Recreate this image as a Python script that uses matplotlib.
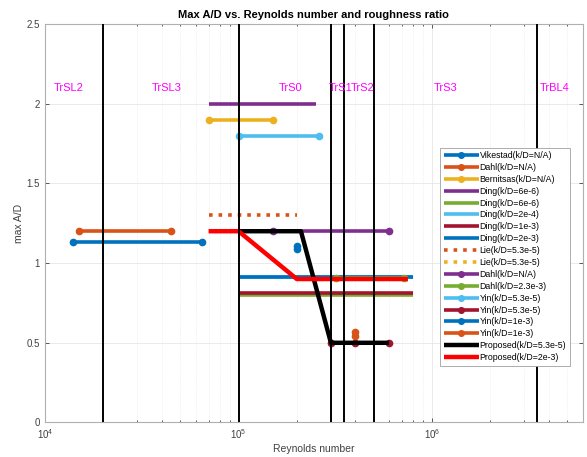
import matplotlib
matplotlib.use("Agg")
import matplotlib.pyplot as plt
from matplotlib.ticker import LogLocator, NullFormatter

plt.rcParams['font.family'] = ['Liberation Sans', 'DejaVu Sans']

# MATLAB default colours
C_BLUE = (0, 0.447, 0.741)
C_ORANGE = (0.85, 0.325, 0.098)
C_YELLOW = (0.929, 0.694, 0.125)
C_PURPLE = (0.494, 0.184, 0.556)
C_GREEN = (0.466, 0.674, 0.188)
C_LBLUE = (0.301, 0.745, 0.933)
C_DRED = (0.635, 0.078, 0.184)

# Series data (Reynolds number, max A/D)
vikestad_x = [1.4e4, 6.5e4];  vikestad_y = [1.13, 1.13]
dahl_x = [1.5e4, 4.5e4];      dahl_y = [1.2, 1.2]
bernitsas_x = [7e4, 1.5e5];   bernitsas_y = [1.9, 1.9]
ding1_x = [7e4, 2.5e5];       ding1_y = [2.0, 2.0]
ding2_x = [1e5, 8e5];         ding2_y = [0.80, 0.80]
ding3_x = [1e5, 8e5];         ding3_y = [0.915, 0.915]
ding4_x = [1e5, 8e5];         ding4_y = [0.81, 0.81]
ding5_x = [1e5, 8e5];         ding5_y = [0.91, 0.91]
lie1_x = [7e4, 2e5];          lie1_y = [1.3, 1.3]
lie2_x = [3e5, 5e5];          lie2_y = [0.5, 0.5]
dahl2_x = [1.5e5, 6e5];       dahl2_y = [1.2, 1.2]
dahl3_x = [3.2e5, 7.2e5];     dahl3_y = [0.905, 0.905]
yin1_x = [1e5, 2.6e5];        yin1_y = [1.8, 1.8]
yin2_x = [3e5, 4e5, 6e5];     yin2_y = [0.5, 0.5, 0.5]
yin3_x = [2e5, 2e5];          yin3_y = [1.09, 1.11]
yin4_x = [4e5, 4e5];          yin4_y = [0.54, 0.565]
prop1_x = [1e5, 2.1e5, 3e5, 6e5]; prop1_y = [1.2, 1.2, 0.5, 0.5]
prop2_x = [7e4, 1e5, 2e5, 7.5e5]; prop2_y = [1.2, 1.2, 0.9, 0.9]

series = [
    ("Vikestad(k/D=N/A)", vikestad_x, vikestad_y, C_BLUE, '-', 'o'),
    ("Dahl(k/D=N/A)", dahl_x, dahl_y, C_ORANGE, '-', 'o'),
    ("Bernitsas(k/D=N/A)", bernitsas_x, bernitsas_y, C_YELLOW, '-', 'o'),
    ("Ding(k/D=6e-6)", ding1_x, ding1_y, C_PURPLE, '-', None),
    ("Ding(k/D=6e-6)", ding2_x, ding2_y, C_GREEN, '-', None),
    ("Ding(k/D=2e-4)", ding3_x, ding3_y, C_LBLUE, '-', None),
    ("Ding(k/D=1e-3)", ding4_x, ding4_y, C_DRED, '-', None),
    ("Ding(k/D=2e-3)", ding5_x, ding5_y, C_BLUE, '-', None),
    ("Lie(k/D=5.3e-5)", lie1_x, lie1_y, C_ORANGE, ':', None),
    ("Lie(k/D=5.3e-5)", lie2_x, lie2_y, C_YELLOW, ':', None),
    ("Dahl(k/D=N/A)", dahl2_x, dahl2_y, C_PURPLE, '-', 'o'),
    ("Dahl(k/D=2.3e-3)", dahl3_x, dahl3_y, C_GREEN, '-', 'o'),
    ("Yin(k/D=5.3e-5)", yin1_x, yin1_y, C_LBLUE, '-', 'o'),
    ("Yin(k/D=5.3e-5)", yin2_x, yin2_y, C_DRED, '-', 'o'),
    ("Yin(k/D=1e-3)", yin3_x, yin3_y, C_BLUE, '-', 'o'),
    ("Yin(k/D=1e-3)", yin4_x, yin4_y, C_ORANGE, '-', 'o'),
    ("Proposed(k/D=5.3e-5)", prop1_x, prop1_y, 'black', '-', None),
    ("Proposed(k/D=2e-3)", prop2_x, prop2_y, 'red', '-', None),
]

boundaries = [2e4, 1e5, 3e5, 3.5e5, 5e5, 3.5e6]
regime_labels = ["TrSL2", "TrSL3", "TrS0", "TrS1", "TrS2", "TrS3", "TrBL4"]
regime_x = [1.33e4, 4.25e4, 1.85e5, 3.36e5, 4.35e5, 1.17e6, 4.3e6]
regime_y = 2.1

fig = plt.figure(figsize=(5.87, 4.57), dpi=100)
ax = fig.add_axes([0.0767, 0.0755, 0.916, 0.872])

for label, xs, ys, col, ls, mk in series:
    lw = 3.2 if label.startswith("Proposed") else 2.6
    ax.plot(xs, ys, color=col, linestyle=ls, linewidth=lw, marker=mk,
            markersize=4.5, label=label, solid_capstyle='butt', zorder=3)

for b in boundaries:
    ax.axvline(b, color='black', linewidth=1.4, zorder=4)

for t, xv in zip(regime_labels, regime_x):
    ax.text(xv, regime_y, t, color='magenta', fontsize=8, ha='center', va='center', zorder=5)

ax.set_xscale('log')
ax.set_xlim(1e4, 6e6)
ax.set_ylim(0, 2.5)
ax.set_yticks([0, 0.5, 1, 1.5, 2, 2.5])
ax.set_yticklabels(['0', '0.5', '1', '1.5', '2', '2.5'])
ax.xaxis.set_minor_locator(LogLocator(base=10, subs=range(2, 10)))
ax.xaxis.set_minor_formatter(NullFormatter())
ax.grid(True, which='major', color='#e6e6e6', linewidth=0.6)
ax.grid(True, which='minor', axis='x', color='#e6e6e6', linewidth=0.5, linestyle=':')
ax.set_axisbelow(True)
ax.tick_params(which='both', direction='in', top=True, right=True, labelsize=7, colors='#404040',
               length=3, width=0.6)
ax.tick_params(which='minor', length=1.5)
for s in ax.spines.values():
    s.set_color('#b0b0b0')
    s.set_linewidth(0.8)

ax.set_title("Max A/D vs. Reynolds number and roughness ratio", fontsize=8, fontweight='bold', pad=4)
ax.set_xlabel("Reynolds number", fontsize=7.5, color='#404040', labelpad=2)
ax.set_ylabel("max A/D", fontsize=7.5, color='#404040', labelpad=2)

leg = ax.legend(loc='upper left', bbox_to_anchor=(0.735, 0.69), fontsize=6.3, handlelength=4.0,
                handletextpad=0.1, labelspacing=0.33, borderpad=0.4, borderaxespad=0,
                frameon=True, fancybox=False, framealpha=1, markerscale=0.9)
leg.get_frame().set_edgecolor('#a0a0a0')
leg.get_frame().set_linewidth(0.6)
leg.set_zorder(10)

fig.savefig("out.png", dpi=100)
